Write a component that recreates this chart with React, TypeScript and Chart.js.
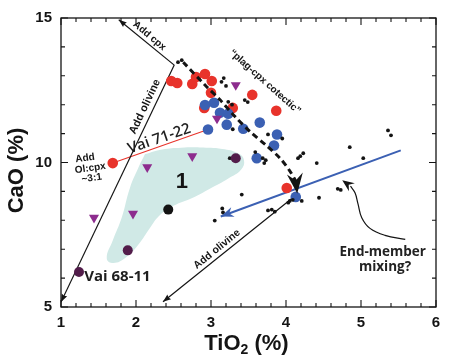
import React, { useEffect, useRef } from "react";
import { Chart, registerables } from "chart.js";

Chart.register(...registerables);

type P = [number, number];

// ---------------- data ----------------
const X_LABELS = [1, 2, 3, 4, 5, 6];
const Y_LABELS = [5, 10, 15];

const RED_CIRCLES: P[] = [
  [2.47, 12.82], [2.55, 12.75], [2.75, 12.72], [2.80, 12.96], [2.92, 13.06],
  [3.01, 12.82], [3.00, 12.41], [2.91, 11.89], [3.29, 11.89], [3.55, 12.34],
  [3.87, 11.79], [4.01, 9.12], [1.69, 9.98],
];

const BLUE_CIRCLES: P[] = [
  [2.92, 11.99], [3.04, 12.07], [3.12, 11.72], [3.23, 11.69], [3.21, 11.31],
  [2.96, 11.14], [3.43, 11.17], [3.65, 11.38], [3.88, 10.97], [3.84, 10.59],
  [3.61, 10.15], [4.13, 8.81],
];

const PURPLE_TRIANGLES: P[] = [
  [3.33, 12.68], [3.08, 11.52], [2.75, 10.22], [2.15, 9.84], [1.44, 8.09], [1.96, 8.23],
];

const MAROON_CIRCLES: P[] = [[3.33, 10.15], [1.89, 6.96], [1.24, 6.21]];

const BLACK_CIRCLES: P[] = [[2.43, 8.37]];

const SMALL_DOTS: P[] = [
  [2.56, 13.47], [2.61, 13.54],
  [3.14, 12.79], [3.17, 12.92], [3.20, 12.65],
  [3.45, 12.16], [3.49, 12.09],
  [3.23, 12.10], [3.28, 12.00],
  [3.29, 11.15],
  [3.76, 10.97], [3.95, 10.83],
  [3.59, 10.36], [3.71, 9.98], [3.73, 10.08],
  [4.19, 10.22], [4.23, 10.32], [4.16, 10.15],
  [4.41, 9.98], [4.85, 10.53], [5.03, 10.15], [5.36, 11.11], [5.40, 10.94],
  [4.69, 9.09], [4.73, 9.05], [4.44, 8.78],
  [4.05, 8.67], [4.09, 8.71], [4.21, 8.67], [4.03, 8.61],
  [3.41, 8.89],
  [3.76, 8.34], [3.81, 8.37], [3.85, 8.30],
  [3.15, 8.41], [3.16, 8.27], [3.05, 7.99],
  [3.25, 10.15], [3.69, 10.15],
];

const FIELD_1: P[] = [
  [2.12, 10.29], [2.35, 10.45], [2.60, 10.51], [2.85, 10.52], [3.15, 10.47],
  [3.36, 10.32], [3.44, 10.08], [3.40, 9.75], [3.23, 9.45], [2.99, 9.10],
  [2.75, 8.77], [2.50, 8.50], [2.32, 8.18], [2.19, 7.75], [2.03, 7.15],
  [1.86, 6.70], [1.70, 6.52], [1.61, 6.68], [1.69, 7.30], [1.81, 8.10],
  [1.92, 9.13], [2.03, 9.81], [2.12, 10.29],
];

const COTECTIC: P[] = [
  [2.63, 13.47], [2.92, 12.68], [3.12, 12.17], [3.32, 11.59], [3.52, 11.07],
  [3.75, 10.56], [3.92, 10.15], [4.05, 9.71], [4.13, 9.36],
];
const COTECTIC_TIP: P = [4.15, 8.93];

const ADD_CPX: P[] = [[2.51, 13.37], [1.77, 14.94]];
const ADD_OLIVINE_1: P[] = [[2.51, 13.37], [1.0, 5.17]];
const ADD_OLIVINE_2: P[] = [[4.09, 8.78], [2.36, 5.18]];
const MIXING_ARROW: P[] = [[5.53, 10.42], [3.13, 8.13]];
const VAI_71_22_LINK: P[] = [[1.69, 9.98], [2.96, 11.14]];
const END_MEMBER_CURVE: P[] = [
  [5.59, 7.34], [5.32, 7.48], [5.12, 7.72], [5.01, 8.09], [4.96, 8.57], [4.92, 8.95], [4.86, 9.18],
];
const END_MEMBER_TIP: P = [4.75, 9.39];

// ---------------- styling ----------------
const FONT = 'Arial, "Liberation Sans", Helvetica, sans-serif';
const HUM = '"Open Sans", Arial, sans-serif';
const RED = "#e8332b";
const BLUE = "#3b60b3";
const PURPLE = "#8d2c8e";
const MAROON = "#521c4a";
const TEAL = "#d0e9e6";
const INK = "#141414";

type Note = { t: string; x: number; y: number; r: number; f: string; c?: string; a?: CanvasTextAlign };
const NOTES: Note[] = [
  { t: "Add cpx", x: 2.18, y: 14.38, r: 40, f: `bold 10px ${FONT}` },
  { t: "Add olivine", x: 2.12, y: 11.93, r: -64.7, f: `bold 11px ${FONT}` },
  { t: "Add olivine", x: 3.08, y: 7.0, r: -39, f: `bold 10.5px ${FONT}` },
  { t: "Vai 71-22", x: 2.31, y: 10.82, r: -19, f: `600 15px ${HUM}`, c: "#1e1e1e" },
  { t: "Add", x: 1.32, y: 10.15, r: -8, f: `bold 10px ${FONT}` },
  { t: "Ol:cpx", x: 1.39, y: 9.8, r: -8, f: `bold 10px ${FONT}` },
  { t: "~3:1", x: 1.41, y: 9.46, r: -8, f: `bold 10px ${FONT}` },
  { t: "1", x: 2.61, y: 9.33, r: 0, f: `bold 22px ${FONT}` },
  { t: "Vai 68-11", x: 1.31, y: 6.04, r: 0, f: `bold 15px ${HUM}`, c: "#1e1e1e", a: "left" },
  { t: "\u201Cplag-cpx cotectic\u201D", x: 3.72, y: 12.79, r: 41.7, f: `bold 10px ${FONT}` },
  { t: "End-member", x: 5.29, y: 6.9, r: 0, f: `bold 13.5px ${HUM}`, c: "#222" },
  { t: "mixing?", x: 5.32, y: 6.39, r: 0, f: `bold 13.5px ${HUM}`, c: "#222" },
];

const overlay = {
  id: "overlay",
  afterDatasetsDraw(chart: any) {
    const ctx: CanvasRenderingContext2D = chart.ctx;
    const xs = chart.scales.x;
    const ys = chart.scales.y;
    const px = (v: number) => xs.getPixelForValue(v);
    const py = (v: number) => ys.getPixelForValue(v);
    const { left, right, top, bottom } = chart.chartArea;

    const head = (from: P, to: P, len: number, half: number, notch: number, color: string) => {
      const x0 = px(from[0]), y0 = py(from[1]), x1 = px(to[0]), y1 = py(to[1]);
      const a = Math.atan2(y1 - y0, x1 - x0);
      ctx.save();
      ctx.translate(x1, y1);
      ctx.rotate(a);
      ctx.beginPath();
      ctx.moveTo(0, 0);
      ctx.lineTo(-len, -half);
      ctx.lineTo(-len + notch, 0);
      ctx.lineTo(-len, half);
      ctx.closePath();
      ctx.fillStyle = color;
      ctx.fill();
      ctx.restore();
    };

    ctx.save();
    // arrow heads
    head(ADD_CPX[0], ADD_CPX[1], 8, 3, 1, INK);
    head(ADD_OLIVINE_1[0], ADD_OLIVINE_1[1], 8, 3, 1, INK);
    head(ADD_OLIVINE_2[0], ADD_OLIVINE_2[1], 8, 3, 1, INK);
    head(MIXING_ARROW[0], MIXING_ARROW[1], 13, 5, 4, BLUE);
    head(END_MEMBER_CURVE[END_MEMBER_CURVE.length - 1], END_MEMBER_TIP, 12, 5, 4, INK);
    head(COTECTIC[COTECTIC.length - 1], COTECTIC_TIP, 20, 8, 7, INK);

    // frame
    ctx.strokeStyle = INK;
    ctx.lineWidth = 1.3;
    ctx.strokeRect(left, top, right - left, bottom - top);

    // inward ticks on all four sides
    ctx.lineWidth = 1.1;
    ctx.beginPath();
    for (let i = 0; i <= 25; i++) {
      const v = 1 + i * 0.2;
      const L = i % 5 === 0 ? 7 : 4;
      const x = px(v);
      ctx.moveTo(x, bottom);
      ctx.lineTo(x, bottom - L);
      ctx.moveTo(x, top);
      ctx.lineTo(x, top + L);
    }
    for (let v = 5; v <= 15; v++) {
      const L = v % 5 === 0 ? 7 : 4;
      const y = py(v);
      ctx.moveTo(left, y);
      ctx.lineTo(left + L, y);
      ctx.moveTo(right, y);
      ctx.lineTo(right - L, y);
    }
    ctx.stroke();

    // annotations
    for (const n of NOTES) {
      ctx.save();
      ctx.translate(px(n.x), py(n.y));
      ctx.rotate((n.r * Math.PI) / 180);
      ctx.font = n.f;
      ctx.fillStyle = n.c || INK;
      ctx.textAlign = n.a || "center";
      ctx.textBaseline = "middle";
      ctx.fillText(n.t, 0, 0);
      ctx.restore();
    }

    // axis titles
    const cx = (left + right) / 2 - 2;
    ctx.fillStyle = INK;
    ctx.textBaseline = "alphabetic";
    ctx.font = `bold 22px ${FONT}`;
    const w1 = ctx.measureText("TiO").width;
    ctx.font = `bold 14px ${FONT}`;
    const w2 = ctx.measureText("2").width;
    ctx.font = `bold 22px ${FONT}`;
    const w3 = ctx.measureText(" (%)").width;
    let sx = cx - (w1 + w2 + w3) / 2;
    const by = bottom + 43;
    ctx.textAlign = "left";
    ctx.fillText("TiO", sx, by);
    sx += w1;
    ctx.font = `bold 14px ${FONT}`;
    ctx.fillText("2", sx, by + 4);
    sx += w2;
    ctx.font = `bold 22px ${FONT}`;
    ctx.fillText(" (%)", sx, by);

    ctx.save();
    ctx.translate(23, (top + bottom) / 2 + 8);
    ctx.rotate(-Math.PI / 2);
    ctx.textAlign = "center";
    ctx.fillText("CaO (%)", 0, 0);
    ctx.restore();

    ctx.restore();
  },
};

const xy = (a: P[]) => a.map(([x, y]) => ({ x, y }));

export default function App() {
  const ref = useRef<HTMLCanvasElement>(null);

  useEffect(() => {
    if (!ref.current) return;
    const lineDs = (data: P[], color: string, width: number, order: number, extra: any = {}) => ({
      type: "line" as const,
      data: xy(data),
      borderColor: color,
      borderWidth: width,
      pointRadius: 0,
      showLine: true,
      fill: false,
      tension: 0,
      order,
      ...extra,
    });
    const pointDs = (data: P[], color: string, radius: number, order: number, extra: any = {}) => ({
      type: "scatter" as const,
      data: xy(data),
      backgroundColor: color,
      borderColor: color,
      borderWidth: 0,
      pointRadius: radius,
      pointHoverRadius: radius,
      order,
      ...extra,
    });

    const chart = new Chart(ref.current, {
      type: "scatter",
      data: {
        datasets: [
          lineDs(FIELD_1, "rgba(0,0,0,0)", 0, 20, { fill: "shape", backgroundColor: TEAL, tension: 0.45 }),
          lineDs(ADD_CPX, INK, 1.2, 12),
          lineDs(ADD_OLIVINE_1, INK, 1.2, 12),
          lineDs(ADD_OLIVINE_2, INK, 1.2, 12),
          lineDs(VAI_71_22_LINK, RED, 1.1, 12),
          lineDs(MIXING_ARROW, BLUE, 2, 12),
          lineDs(END_MEMBER_CURVE, INK, 1.2, 12, { tension: 0.4 }),
          pointDs(RED_CIRCLES, RED, 5.3, 9),
          pointDs(BLUE_CIRCLES, BLUE, 5.3, 8),
          pointDs(SMALL_DOTS, INK, 1.9, 6),
          lineDs(COTECTIC, INK, 3, 5, { borderDash: [6, 4], tension: 0.3 }),
          pointDs(PURPLE_TRIANGLES, PURPLE, 5.8, 3, { pointStyle: "triangle", rotation: 180 }),
          pointDs(MAROON_CIRCLES, MAROON, 5, 2),
          pointDs(BLACK_CIRCLES, INK, 5, 2),
        ] as any,
      },
      options: {
        animation: false,
        responsive: true,
        maintainAspectRatio: false,
        layout: { padding: { left: 0, right: 14, top: 15, bottom: 0 } },
        plugins: { legend: { display: false }, tooltip: { enabled: false } },
        events: [],
        scales: {
          x: {
            type: "linear",
            position: "bottom",
            min: 1,
            max: 6,
            afterFit: (s: any) => {
              s.height = 56;
            },
            afterBuildTicks: (s: any) => {
              s.ticks = X_LABELS.map((v) => ({ value: v }));
            },
            grid: { display: false, drawTicks: false },
            border: { display: false },
            ticks: {
              padding: 7,
              color: INK,
              font: { family: FONT, size: 15, weight: "bold" },
              maxRotation: 0,
            },
          },
          y: {
            type: "linear",
            min: 5,
            max: 15,
            afterFit: (s: any) => {
              s.width = 61;
            },
            afterBuildTicks: (s: any) => {
              s.ticks = Y_LABELS.map((v) => ({ value: v }));
            },
            grid: { display: false, drawTicks: false },
            border: { display: false },
            ticks: {
              padding: 9,
              color: INK,
              font: { family: FONT, size: 15, weight: "bold" },
            },
          },
        },
      } as any,
      plugins: [overlay],
    });
    return () => chart.destroy();
  }, []);

  return (
    <div style={{ position: "fixed", left: 0, top: 0, width: 450, height: 363, background: "#fff" }}>
      <canvas ref={ref} />
    </div>
  );
}
